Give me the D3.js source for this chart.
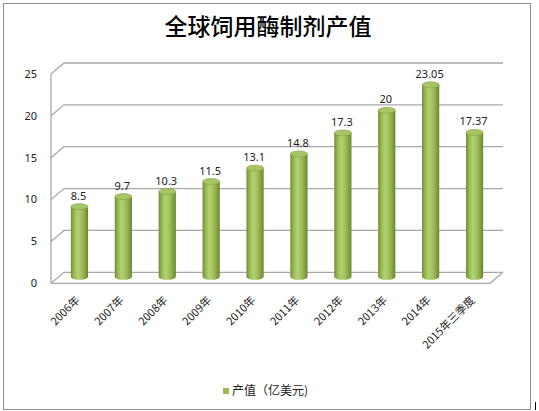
<!DOCTYPE html>
<html>
<head>
<meta charset="utf-8">
<script src="https://cdn.jsdelivr.net/npm/d3@7"></script>
<style>
  body { margin: 0; background: #fff; }
  svg { display: block; }
</style>
</head>
<body>
<div id="chart"></div>
<script>
const title = "全球饲用酶制剂产值";
const categories = ["2006年", "2007年", "2008年", "2009年", "2010年", "2011年", "2012年", "2013年", "2014年", "2015年三季度"];
const values = [8.5, 9.7, 10.3, 11.5, 13.1, 14.8, 17.3, 20, 23.05, 17.37];
const yTicks = [0, 5, 10, 15, 20, 25];
const seriesName = "产值（亿美元)";

const W = 539, H = 411;
const depth = { dx: 13, dy: -11 };
const front = { left: 51, right: 490 };

const svg = d3.select("#chart").append("svg")
  .attr("width", W)
  .attr("height", H);

// outer frame
svg.append("rect")
  .attr("x", 3.5).attr("y", 3.5)
  .attr("width", 527).attr("height", 406)
  .attr("fill", "#fff")
  .attr("stroke", "#8c8c8c");

svg.append("line")
  .attr("x1", 535.5).attr("x2", 535.5)
  .attr("y1", 402).attr("y2", 410)
  .attr("stroke", "#000");

svg.append("text")
  .attr("x", 268).attr("y", 35)
  .attr("text-anchor", "middle")
  .style("font-family", "'Noto Sans CJK SC', sans-serif")
  .style("font-weight", 500)
  .style("font-size", "23px")
  .attr("fill", "#000")
  .text(title);

// y on the front plane
const y = d3.scaleLinear().domain([0, 25]).range([283.3, 74]);
const midY = (v) => y(v) + depth.dy / 2;

const x = d3.scalePoint()
  .domain(categories)
  .range([front.left + depth.dx / 2, front.right + depth.dx / 2])
  .padding(0.5);

const grid = svg.append("g")
  .attr("fill", "none")
  .attr("stroke", "#a8a8a8")
  .attr("stroke-width", 1.3);

// back wall gridlines + side wall diagonals
yTicks.forEach((t) => {
  const yf = y(t), yb = y(t) + depth.dy;
  grid.append("path")
    .attr("d", `M${front.left},${yf}L${front.left + depth.dx},${yb}L${front.right + depth.dx},${yb}`);
});

// left wall front edge
grid.append("line")
  .attr("x1", front.left).attr("x2", front.left)
  .attr("y1", y(25)).attr("y2", y(0));

// floor
grid.append("path")
  .attr("d", `M${front.left},${y(0)}L${front.right},${y(0)}L${front.right + depth.dx},${y(0) + depth.dy}`);

// y labels
svg.append("g")
  .selectAll("text")
  .data(yTicks)
  .join("text")
  .attr("x", 37)
  .attr("y", (d) => y(d))
  .attr("dy", "0.35em")
  .attr("text-anchor", "end")
  .style("font-family", "'Noto Sans', sans-serif")
  .style("font-size", "11px")
  .attr("fill", "#222")
  .text((d) => d);

// cylinder gradient
const defs = svg.append("defs");
const grad = defs.append("linearGradient")
  .attr("id", "cyl")
  .attr("x1", "0%").attr("x2", "100%")
  .attr("y1", "0%").attr("y2", "0%");
[
  [0, "#6f8c34"],
  [0.18, "#96b853"],
  [0.4, "#b4d172"],
  [0.65, "#9ebe5c"],
  [0.88, "#7e9c3f"],
  [1, "#67822e"],
].forEach(([o, c]) => grad.append("stop").attr("offset", o).attr("stop-color", c));

const r = 8.6, ry = 3;
const bars = svg.append("g")
  .selectAll("g")
  .data(categories.map((c, i) => ({ cat: c, v: values[i] })))
  .join("g");

bars.append("path")
  .attr("d", (d) => {
    const cx = x(d.cat), top = midY(d.v), bot = midY(0) - 1;
    return `M${cx - r},${top}L${cx - r},${bot}A${r},${ry} 0 0 0 ${cx + r},${bot}L${cx + r},${top}Z`;
  })
  .attr("fill", "url(#cyl)");

bars.append("ellipse")
  .attr("cx", (d) => x(d.cat))
  .attr("cy", (d) => midY(d.v))
  .attr("rx", r).attr("ry", ry)
  .attr("fill", "#a7c564")
  .attr("stroke", "#7f9d41")
  .attr("stroke-width", 0.6);

bars.append("text")
  .attr("x", (d) => x(d.cat) - 1)
  .attr("y", (d) => midY(d.v) - 7)
  .attr("text-anchor", "middle")
  .style("font-family", "'Noto Sans', sans-serif")
  .style("font-size", "11px")
  .attr("fill", "#222")
  .text((d) => d.v);

// x labels
svg.append("g")
  .selectAll("text")
  .data(categories)
  .join("text")
  .attr("transform", (d) => `translate(${x(d) + 1},${301}) rotate(-45)`)
  .attr("text-anchor", "end")
  .style("font-family", "'Noto Sans CJK SC', sans-serif")
  .style("font-size", "11px")
  .attr("fill", "#222")
  .text((d) => d);

// legend
svg.append("rect")
  .attr("x", 223).attr("y", 388)
  .attr("width", 6).attr("height", 6)
  .attr("fill", "#9bbb59");

svg.append("text")
  .attr("x", 232).attr("y", 395)
  .style("font-family", "'Noto Sans CJK SC', sans-serif")
  .style("font-size", "12px")
  .attr("fill", "#222")
  .text(seriesName);
</script>
</body>
</html>
